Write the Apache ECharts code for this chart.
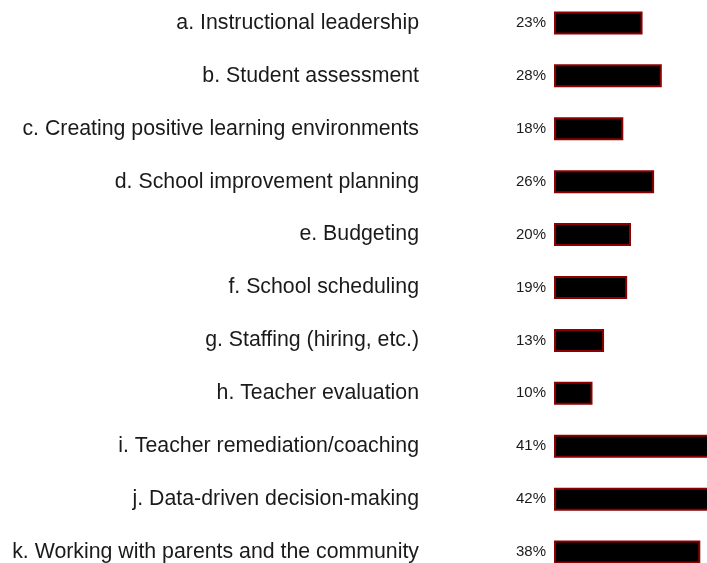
<!DOCTYPE html>
<html>
<head>
<meta charset="utf-8">
<style>
  html, body { margin: 0; padding: 0; background: #fff; }
  #chart { width: 707px; height: 563px; }
</style>
<script src="https://cdn.jsdelivr.net/npm/echarts@6/dist/echarts.min.js"></script>
</head>
<body>
<div id="chart"></div>
<script>
// Topics, top to bottom
const categories = [
  'a. Instructional leadership',
  'b. Student assessment',
  'c. Creating positive learning environments',
  'd. School improvement planning',
  'e. Budgeting',
  'f. School scheduling',
  'g. Staffing (hiring, etc.)',
  'h. Teacher evaluation',
  'i. Teacher remediation/coaching',
  'j. Data-driven decision-making',
  'k. Working with parents and the community'
];

// Share of respondents (%)
const percentages = [23, 28, 18, 26, 20, 19, 13, 10, 41, 42, 38];

const chart = echarts.init(document.getElementById('chart'), null, { renderer: 'canvas' });

chart.setOption({
  animation: false,
  backgroundColor: '#ffffff',
  grid: {
    left: 554,
    top: -3.5,
    width: 385,
    height: 582,
    containLabel: false,
    outerBoundsMode: 'none'
  },
  xAxis: {
    type: 'value',
    min: 0,
    max: 100,
    show: false
  },
  yAxis: {
    type: 'category',
    data: categories,
    inverse: true,
    axisLine: { show: false },
    axisTick: { show: false },
    splitLine: { show: false },
    axisLabel: {
      margin: 135,
      fontFamily: 'Liberation Sans, Arial, sans-serif',
      fontSize: 21.3,
      color: '#1a1a1a'
    }
  },
  series: [{
    type: 'bar',
    data: percentages,
    barWidth: 23,
    itemStyle: {
      color: '#000000',
      borderColor: '#8b0000',
      borderWidth: 2
    },
    label: {
      show: true,
      position: 'left',
      distance: 8,
      formatter: p => p.value + '%',
      fontFamily: 'Liberation Sans, Arial, sans-serif',
      fontSize: 15,
      color: '#1a1a1a'
    }
  }]
});
</script>
</body>
</html>
